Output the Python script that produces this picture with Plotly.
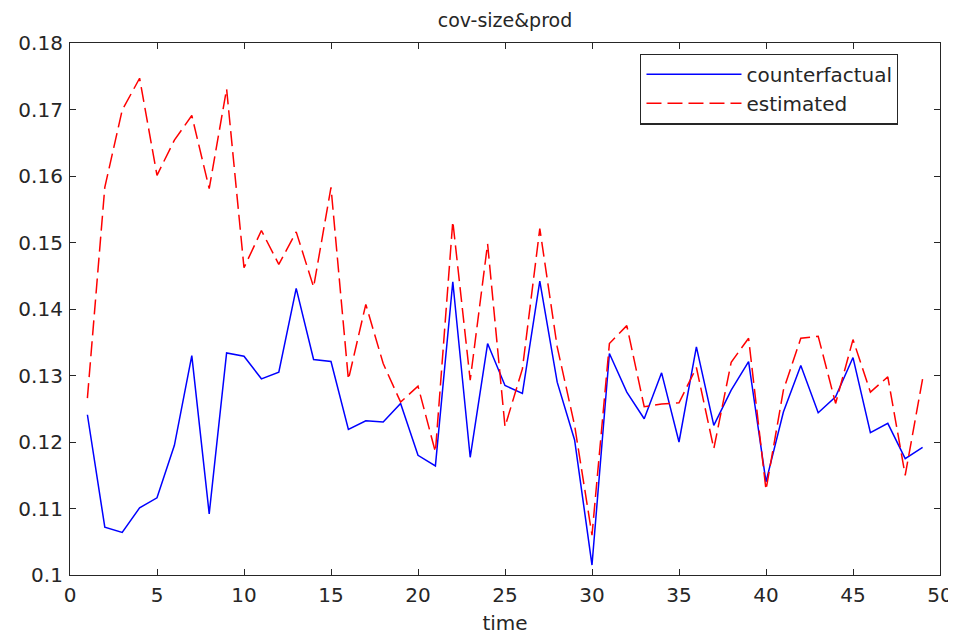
import plotly.graph_objects as go

time = list(range(1, 50))
counterfactual = [0.1241, 0.1072, 0.1064, 0.1101, 0.1116, 0.1195, 0.1330, 0.1092, 0.1334, 0.1329,
                  0.1295, 0.1305, 0.1431, 0.1324, 0.1321, 0.1219, 0.1232, 0.1230, 0.1258, 0.1180,
                  0.1164, 0.1441, 0.1177, 0.1348, 0.1285, 0.1273, 0.1442, 0.1290, 0.1203, 0.1015,
                  0.1333, 0.1275, 0.1235, 0.1304, 0.1200, 0.1343, 0.1225, 0.1278, 0.1321, 0.1140,
                  0.1245, 0.1315, 0.1244, 0.1268, 0.1327, 0.1214, 0.1228, 0.1175, 0.1192]
estimated = [0.1266, 0.1583, 0.1699, 0.1747, 0.1601, 0.1654, 0.1691, 0.1581, 0.1731, 0.1462,
             0.1518, 0.1467, 0.1516, 0.1433, 0.1583, 0.1294, 0.1407, 0.1318, 0.1260, 0.1284,
             0.1185, 0.1532, 0.1293, 0.1498, 0.1223, 0.1310, 0.1521, 0.1343, 0.1225, 0.1060,
             0.1348, 0.1375, 0.1253, 0.1257, 0.1259, 0.1312, 0.1190, 0.1320, 0.1356, 0.1128,
             0.1278, 0.1356, 0.1359, 0.1258, 0.1354, 0.1275, 0.1298, 0.1150, 0.1295]

x_ticks = [0, 5, 10, 15, 20, 25, 30, 35, 40, 45, 50]
y_ticks = [0.10, 0.11, 0.12, 0.13, 0.14, 0.15, 0.16, 0.17, 0.18]
y_tick_labels = ["0.1", "0.11", "0.12", "0.13", "0.14", "0.15", "0.16", "0.17", "0.18"]

FONT = "DejaVu Sans"
W, H = 948, 627  # page body adds an 8px margin

fig = go.Figure()
fig.add_trace(go.Scatter(x=time, y=counterfactual, mode="lines", name="counterfactual",
                         line=dict(color="#0000FF", width=1.5)))
fig.add_trace(go.Scatter(x=time, y=estimated, mode="lines", name="estimated",
                         line=dict(color="#FF0000", width=1.5, dash="15px,6px")))

axis_common = dict(showline=True, linecolor="#262626", linewidth=1.2, mirror="ticks",
                   ticks="inside", ticklen=6, tickcolor="#262626", showgrid=False,
                   zeroline=False, automargin=False,
                   tickfont=dict(family=FONT, size=20, color="#262626"))

fig.update_layout(
    width=W, height=H,
    margin=dict(l=62, r=16, t=35, b=60),
    paper_bgcolor="white", plot_bgcolor="white",
    font=dict(family=FONT, size=20, color="#262626"),
    title=dict(text="cov-size&prod", x=0.5, xref="paper", y=1 - 6 / H,
               yref="container", xanchor="center", yanchor="top",
               font=dict(family=FONT, size=19, color="#262626")),
    xaxis=dict(range=[0, 50], tickvals=x_ticks, ticklabelstandoff=2,
               title=dict(text="time", standoff=12, font=dict(family=FONT, size=20)),
               **axis_common),
    yaxis=dict(range=[0.10, 0.18], tickvals=y_ticks, ticktext=y_tick_labels,
               ticklabelstandoff=2, **axis_common),
    legend=dict(x=0.6555, y=0.98, xanchor="left", yanchor="top",
                bgcolor="white", bordercolor="#262626", borderwidth=1.2,
                font=dict(family=FONT, size=20, color="#262626"),
                itemwidth=95, tracegroupgap=0),
    showlegend=True,
)

fig.write_html("out.html")
